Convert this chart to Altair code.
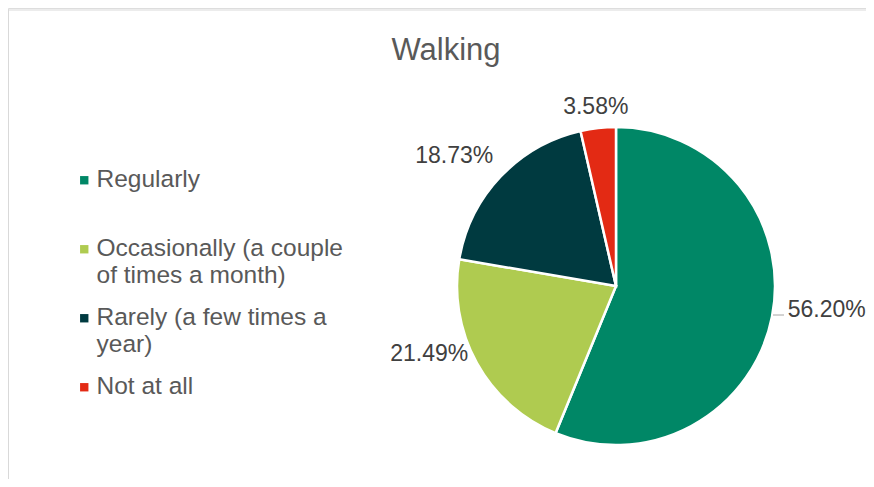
import altair as alt
import pandas as pd

categories = ["Regularly", "Occasionally (a couple of times a month)",
              "Rarely (a few times a year)", "Not at all"]
legend_lines = [["Regularly", ""], ["Occasionally (a couple", "of times a month)"],
                ["Rarely (a few times a", "year)"], ["Not at all", ""]]
values = [56.20, 21.49, 18.73, 3.58]
labels = ["56.20%", "21.49%", "18.73%", "3.58%"]
colors = ["#008766", "#afcb50", "#003a40", "#e32a14"]
side = ["right", "left", "left", "top"]

df = pd.DataFrame({"category": categories, "value": values, "label": labels,
                   "order": list(range(len(categories))), "side": side})
total = sum(values)

CX, CY, R = 608, 278, 159
FONT = "Liberation Sans"

# legend label expression for wrapped lines
parts = []
for cat, lines in zip(categories, legend_lines):
    arr = "[" + ",".join("'" + l + "'" for l in lines) + "]"
    parts.append(f"datum.label == '{cat}' ? {arr} : ")
label_expr = "".join(parts) + "datum.label"

base = alt.Chart(df)

pie = base.mark_arc(outerRadius=R, stroke="white", strokeWidth=2.5).encode(
    theta=alt.Theta("value:Q", stack=True),
    order=alt.Order("order:Q"),
    color=alt.Color("category:N", sort=categories,
                    scale=alt.Scale(domain=categories, range=colors),
                    legend=alt.Legend(title=None, orient="none", legendX=64, legendY=160,
                                      symbolType="square", symbolSize=70,
                                      symbolStrokeWidth=0,
                                      labelFontSize=24.5, labelColor="#595959",
                                      labelFont=FONT, labelLimit=500,
                                      labelOffset=0, rowPadding=17,
                                      labelExpr=label_expr)),
    x=alt.value(CX), y=alt.value(CY),
)

lab_base = base.transform_window(cum="sum(value)", sort=[alt.SortField("order")]).transform_calculate(
    mid="datum.cum - datum.value / 2")

theta_mid = alt.Theta("mid:Q", scale=alt.Scale(domain=[0, total]), stack=None)

def label_layer(which, radius, align, dy=0):
    return lab_base.transform_filter(alt.datum.side == which).mark_text(
        radius=radius, align=align, baseline="middle", dy=dy,
        fontSize=23, font=FONT, color="#404040").encode(
        theta=theta_mid, text="label:N", x=alt.value(CX), y=alt.value(CY))

lab_right = label_layer("right", 175, "left", -10)
lab_left = label_layer("left", 169, "right", -14)
lab_top = label_layer("top", 180, "center", 0)

one = alt.Chart(pd.DataFrame({"t": ["Walking"]}))
title = one.mark_text(fontSize=31, font=FONT, color="#595959", baseline="middle").encode(
    text="t:N", x=alt.value(438), y=alt.value(43))

border_top = one.mark_rule(color="#d9d9d9", strokeWidth=1).encode(
    x=alt.value(0), x2=alt.value(858), y=alt.value(2))
border_left = one.mark_rule(color="#d9d9d9", strokeWidth=1).encode(
    x=alt.value(0.5), y=alt.value(2), y2=alt.value(471))
leader = one.mark_rule(color="#a6a6a6", strokeWidth=1).encode(
    x=alt.value(765), x2=alt.value(776), y=alt.value(307))

chart = alt.layer(border_top, border_left, pie, leader, lab_right, lab_left, lab_top, title).properties(
    width=858, height=471, autosize=alt.AutoSizeParams(type="none"), padding=0
).configure_view(stroke=None).configure(background="white")

chart.save("out.html", embed_options={"renderer": "svg", "actions": False})
